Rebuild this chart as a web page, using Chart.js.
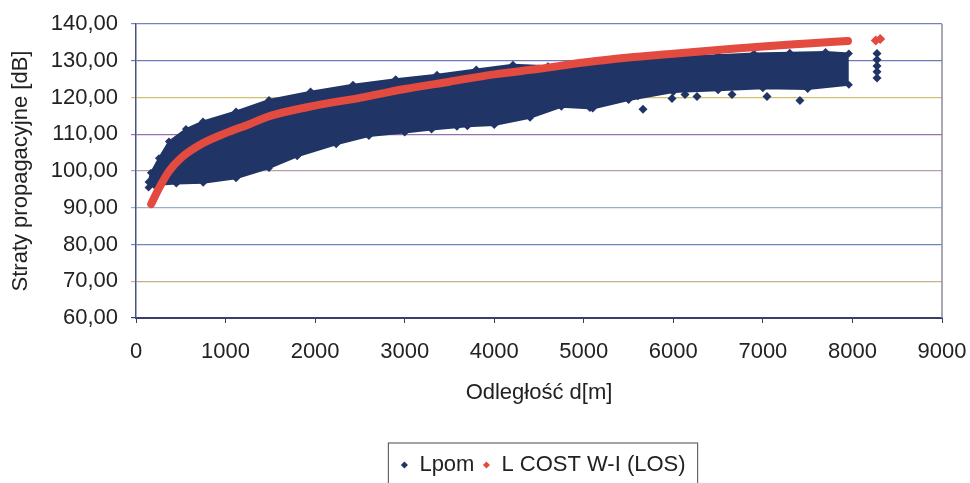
<!DOCTYPE html>
<html>
<head>
	<title>Straty propagacyjne</title>
	<style>
		body { margin: 0; background: #fff; }
		#wrap { width: 970px; height: 483px; }
	</style>
</head>
<body>
	<div id="wrap">
	<canvas id="chart1" width="970" height="483"></canvas>
	</div>

	<script src="https://cdn.jsdelivr.net/npm/chart.js@4.4.0/dist/chart.umd.min.js"></script>
	<script>
		// values
		var lpomTopX = [140, 167, 257, 368, 558, 748, 1117, 1485, 1950, 2423, 2900, 3361, 3800, 4209, 4600, 5000, 5500, 6000, 6500, 6900, 7300, 7700, 7960];
		var lpomTopY = [97, 99.5, 103.5, 108, 111.4, 113.5, 116.2, 119.3, 121.6, 123.5, 125, 126.2, 127.6, 128.9, 128.5, 129.3, 130.3, 131, 131.5, 132, 132.2, 132.4, 132];
		var lpomBotX = [140, 200, 450, 750, 1117, 1485, 1800, 2235, 2600, 3000, 3300, 3700, 4000, 4400, 4750, 5100, 5500, 6000, 6500, 7000, 7500, 7960];
		var lpomBotY = [95.5, 96.2, 96.6, 96.8, 98, 100.8, 104, 107.3, 109.5, 110.5, 111.3, 112.2, 112.5, 114.5, 117.5, 117, 119.3, 121.5, 122, 122.5, 122.3, 123.5];
		var lpomOutX = [3584, 5069, 5605, 5661, 5985, 6130, 6264, 6655, 7046, 7414, 8274, 8274, 8274, 8274, 8274];
		var lpomOutY = [112.2, 117.3, 120.5, 116.8, 119.7, 120.8, 120.3, 120.8, 120.3, 119.2, 132, 130.3, 128.6, 127, 125.3];
		var costX = [170, 250, 370, 500, 750, 1000, 1250, 1500, 2000, 2500, 3000, 3500, 4000, 4500, 5000, 5500, 6000, 6500, 7000, 7500, 7950];
		var costY = [91, 95, 100, 103.5, 107.6, 110.3, 112.6, 115, 117.8, 119.9, 122.3, 124.3, 126.3, 127.8, 129.5, 130.9, 131.9, 132.9, 133.9, 134.7, 135.4];
		var costOutX = [8260, 8310];
		var costOutY = [135.5, 135.9];

		var seriesNames = ["Lpom", "L COST W-I (LOS)"];
		var xTitle = "Odległość d[m]";
		var yTitle = "Straty propagacyjne [dB]";

		var navy = "#203466";
		var red = "#e34a40";
		var font = "'Liberation Sans', Arial, sans-serif";

		// the scan gives the gridlines odd colours, one per line
		var gridColors = {60: "#3a3f6a", 70: "#c8b08c", 80: "#6f86bd", 90: "#93b2c8", 100: "#b79cb0", 110: "#9670ad", 120: "#d0c070", 130: "#6f7ab5", 140: "#7a80b8"};

		function pts(xs, ys) {
			return xs.map(function (x, i) { return {x: x, y: ys[i]}; });
		}

		// right frame line and the box round the legend
		var frame = {
			id: "frame",
			afterLayout: function (chart) {
				// legend sits a little right of the plot centre in the original
				chart.legend.left += 8;
			},
			afterDraw: function (chart) {
				var ctx = chart.ctx, a = chart.chartArea;
				ctx.save();
				ctx.strokeStyle = "#8c8c9c";
				ctx.lineWidth = 1.5;
				ctx.beginPath();
				ctx.moveTo(a.right, a.top);
				ctx.lineTo(a.right, a.bottom);
				ctx.stroke();
				var hb = chart.legend.legendHitBoxes;
				if (hb && hb.length) {
					var last = hb[hb.length - 1];
					var l = hb[0].left - 12, r = last.left + last.width + 12, t = hb[0].top - 11;
					ctx.strokeStyle = "#666";
					ctx.lineWidth = 1.2;
					ctx.strokeRect(l, t, r - l, chart.height - t + 5);
				}
				ctx.restore();
			}
		};

		var ctx = document.getElementById("chart1").getContext("2d");
		var chart = new Chart(ctx, {
			type: "scatter",
			data: {
				datasets: [{
					label: seriesNames[0],
					type: "line",
					data: pts(lpomTopX, lpomTopY),
					order: 1,
					borderColor: navy,
					backgroundColor: navy,
					borderWidth: 2,
					pointStyle: "rectRot",
					pointRadius: 4,
					pointBackgroundColor: navy,
					pointBorderWidth: 0,
					fill: "+1",
					tension: 0
				}, {
					label: "lpomBottom",
					type: "line",
					data: pts(lpomBotX, lpomBotY),
					order: 1,
					borderColor: navy,
					backgroundColor: navy,
					borderWidth: 2,
					pointStyle: "rectRot",
					pointRadius: 4,
					pointBackgroundColor: navy,
					pointBorderWidth: 0,
					fill: false,
					tension: 0
				}, {
					label: "lpomOut",
					data: pts(lpomOutX, lpomOutY),
					order: 1,
					pointStyle: "rectRot",
					pointRadius: 4.5,
					backgroundColor: navy,
					borderColor: navy,
					borderWidth: 0
				}, {
					label: seriesNames[1],
					type: "line",
					data: pts(costX, costY),
					order: 0,
					borderColor: red,
					backgroundColor: red,
					borderWidth: 8,
					borderCapStyle: "round",
					pointStyle: "rectRot",
					pointRadius: 0,
					fill: false,
					cubicInterpolationMode: "monotone"
				}, {
					label: "costOut",
					data: pts(costOutX, costOutY),
					order: 0,
					pointStyle: "rectRot",
					pointRadius: 5,
					backgroundColor: red,
					borderColor: red,
					borderWidth: 0
				}]
			},
			options: {
				responsive: false,
				animation: false,
				devicePixelRatio: 1,
				layout: { padding: { left: 0, right: 28, top: 24, bottom: -3 } },
				scales: {
					x: {
						type: "linear",
						min: 0,
						max: 9000,
						afterFit: function (scale) {
							scale.height = 128;
							scale.paddingLeft = 0;
							scale.paddingRight = 0;
						},
						ticks: {
							stepSize: 1000,
							maxRotation: 0,
							padding: 16,
							color: "#222",
							font: { family: font, size: 22 },
							callback: function (v) { return String(v); }
						},
						grid: { drawOnChartArea: false, drawTicks: true, tickLength: 5, color: "#3a3f6a" },
						border: { color: "#3a3f6a", width: 2 },
						title: { display: true, text: xTitle, color: "#222", font: { family: font, size: 22 }, padding: { top: 4, bottom: 40 } }
					},
					y: {
						min: 60,
						max: 140,
						afterFit: function (scale) {
							scale.width = 136;
							scale.paddingTop = 0;
							scale.paddingBottom = 0;
						},
						ticks: {
							stepSize: 10,
							padding: 13,
							color: "#222",
							font: { family: font, size: 22 },
							callback: function (v) { return v.toFixed(2).replace(".", ","); }
						},
						grid: {
							tickLength: 5,
							lineWidth: 1.2,
							color: function (c) { return gridColors[c.tick ? c.tick.value : 60] || "#8c8cb0"; }
						},
						border: { color: "#4a5080", width: 1.5 },
						title: { display: true, text: yTitle, color: "#222", font: { family: font, size: 22 }, padding: { top: 8, bottom: 0 } }
					}
				},
				plugins: {
					tooltip: { enabled: false },
					legend: {
						position: "bottom",
						fullSize: false,
						labels: {
							usePointStyle: true,
							boxWidth: 8,
							boxHeight: 5,
							padding: 8,
							color: "#222",
							font: { family: font, size: 22 },
							filter: function (item) { return item.datasetIndex === 0 || item.datasetIndex === 3; },
							sort: function (a, b) { return a.datasetIndex - b.datasetIndex; },
							generateLabels: function (chart) {
								var items = Chart.defaults.plugins.legend.labels.generateLabels(chart);
								items.forEach(function (it) { it.lineWidth = 0; it.pointStyle = "rectRot"; });
								return items;
							}
						}
					}
				}
			},
			plugins: [frame]
		});
	</script>
</body>
</html>
